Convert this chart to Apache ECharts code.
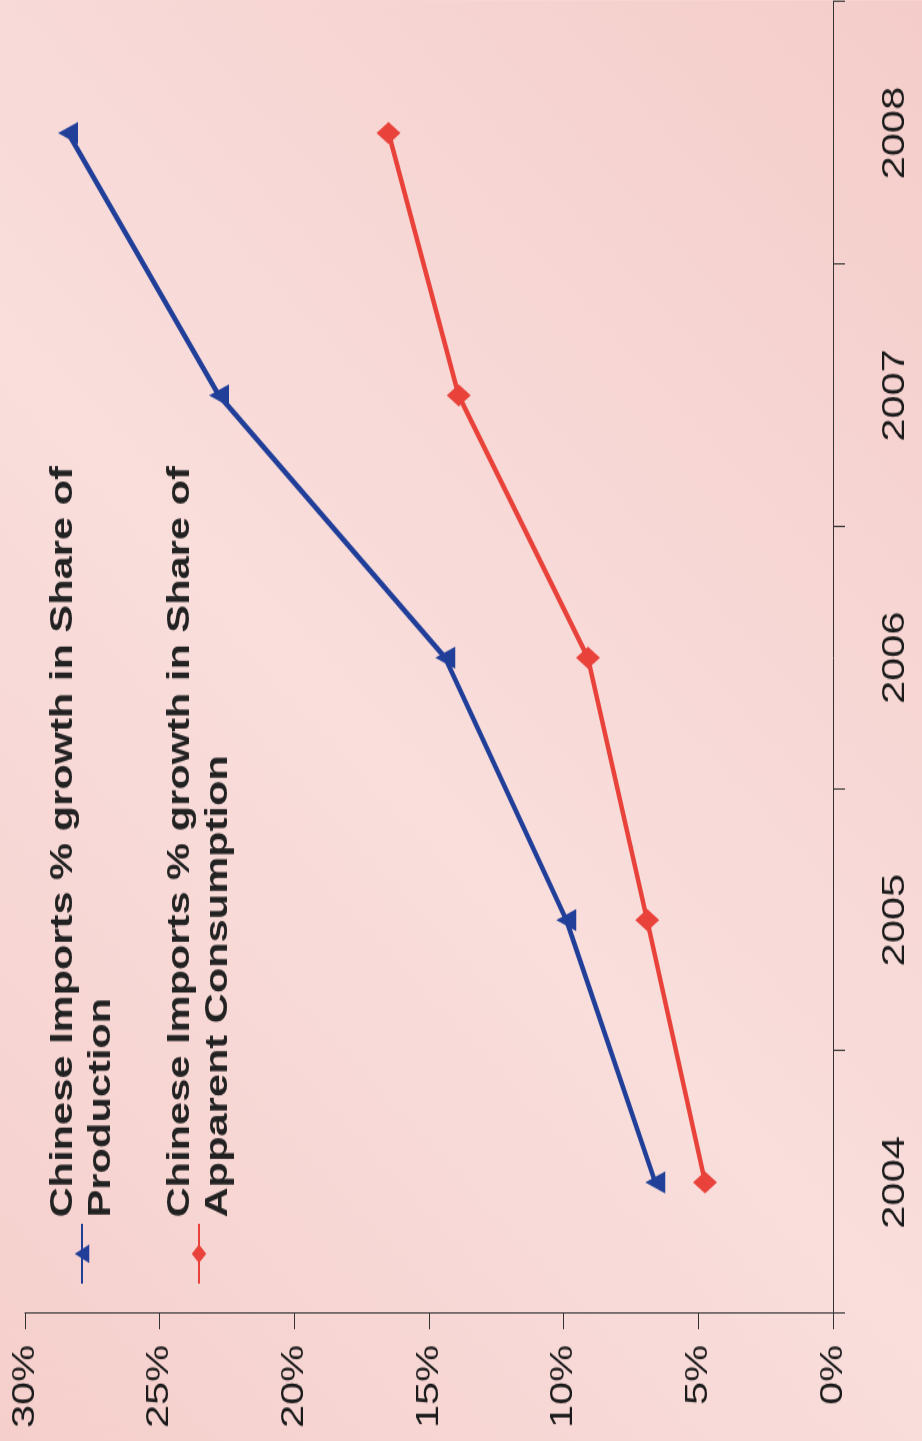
<!DOCTYPE html>
<html>
<head>
<meta charset="UTF-8">
<title>Chinese Imports growth</title>
<script type="text/javascript" src="https://cdn.jsdelivr.net/npm/echarts@6/dist/echarts.min.js"></script>
<style type="text/css">
	html, body{
		margin: 0;
		padding: 0;
		width: 922px;
		height: 1441px;
		overflow: hidden;
		background-color: #f7d8d6;
	}
	/* the picture is a scanned slide turned on its side, so draw it flat and rotate it */
	#main{
		position: absolute;
		left: 0;
		top: 0;
		width: 1108px;
		height: 922px;
		transform-origin: 0 0;
		transform: translate(0, 1441px) rotate(-90deg) scale(1.3, 1);
	}
</style>
</head>
<body>
	<div id="main"></div>
<script type="text/javascript">
	var years = ['2004', '2005', '2006', '2007', '2008'];
	var shareOfProduction = [6.6, 9.9, 14.4, 22.8, 28.4];
	var shareOfConsumption = [4.75, 6.9, 9.1, 13.9, 16.5];
	var seriesNames = [
		'Chinese Imports % growth in Share of\nProduction',
		'Chinese Imports % growth in Share of\nApparent Consumption'
	];

	var myChart = echarts.init(document.getElementById('main'));

	var option = {
		backgroundColor: {
			type: 'linear',
			x: 0, y: 0, x2: 1, y2: 1,
			colorStops: [
				{offset: 0, color: '#f5cfcc'},
				{offset: 0.45, color: '#f9dedc'},
				{offset: 1, color: '#f4cdca'}
			]
		},
		textStyle: {
			fontFamily: 'Liberation Sans, Arial, sans-serif'
		},
		legend: {
			orient: 'vertical',
			left: 115,
			top: 20,
			itemWidth: 46,
			itemHeight: 18,
			itemGap: 3,
			data: seriesNames,
			textStyle: {
				fontSize: 32,
				fontWeight: 'bold',
				color: '#222',
				lineHeight: 38,
				padding: [38, 0, 0, 0]
			}
		},
		grid: {
			left: 98,
			right: 1,
			top: 25,
			bottom: 89
		},
		xAxis: {
			type: 'category',
			data: years,
			boundaryGap: true,
			axisLine: {lineStyle: {color: '#333', width: 1}},
			axisTick: {show: true, length: 12, lineStyle: {color: '#333'}},
			axisLabel: {fontSize: 32, color: '#1a1a1a', margin: 46}
		},
		yAxis: {
			type: 'value',
			min: 0,
			max: 30,
			interval: 5,
			splitLine: {show: false},
			axisLine: {show: true, lineStyle: {color: '#333', width: 1}},
			axisTick: {show: true, length: 12, lineStyle: {color: '#333'}},
			axisLabel: {fontSize: 32, color: '#1a1a1a', margin: 24, formatter: '{value}%'}
		},
		series: [{
			name: seriesNames[0],
			type: 'line',
			data: shareOfProduction,
			symbol: 'triangle',
			symbolSize: [17, 20],
			lineStyle: {color: '#213f99', width: 4.5},
			itemStyle: {color: '#213f99'}
		}, {
			name: seriesNames[1],
			type: 'line',
			data: shareOfConsumption,
			symbol: 'diamond',
			symbolSize: [17, 24],
			lineStyle: {color: '#e9423b', width: 4.5},
			itemStyle: {color: '#e9423b'}
		}]
	};

	myChart.setOption(option);
</script>
</body>
</html>
